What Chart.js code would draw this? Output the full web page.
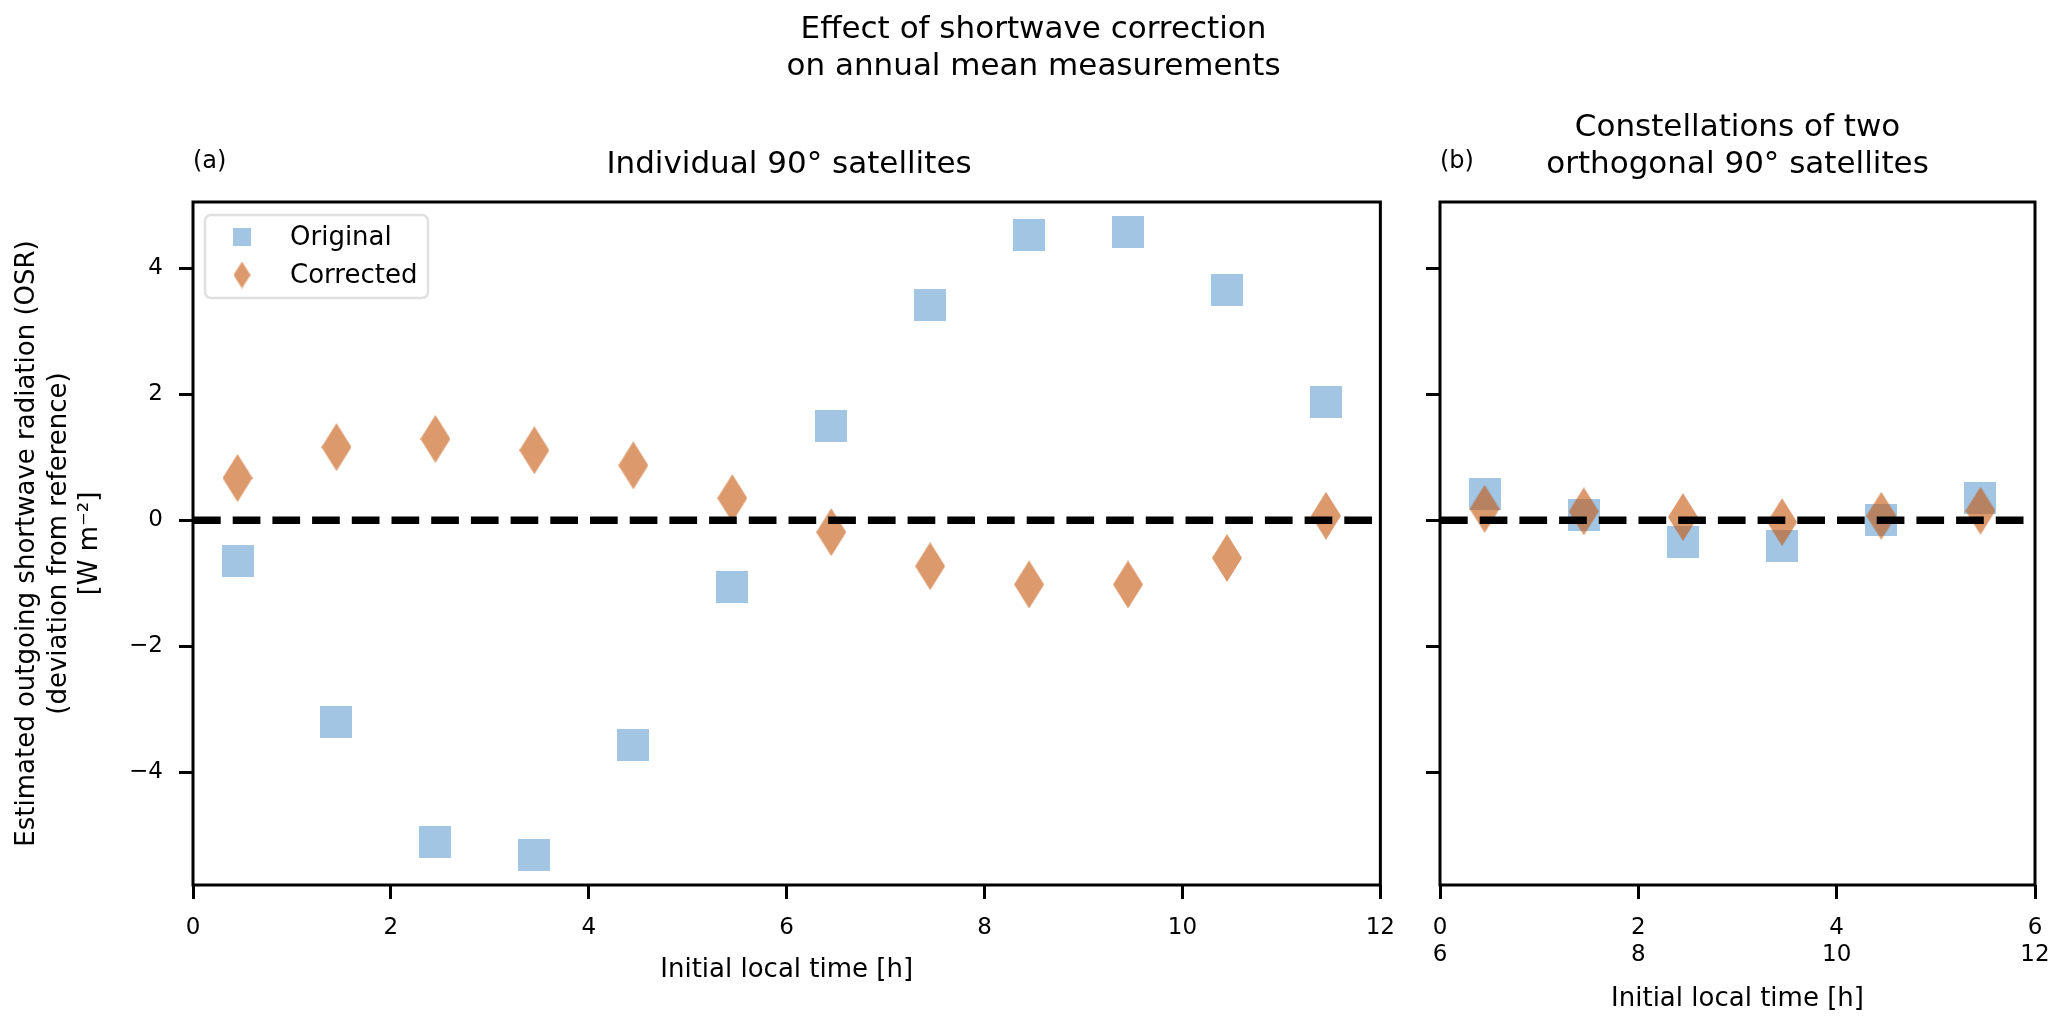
<!DOCTYPE html>
<html>
<head>
<meta charset="utf-8">
<script src="https://cdn.jsdelivr.net/npm/chart.js@4.4.1/dist/chart.umd.min.js"></script>
<style>
  html, body { margin: 0; padding: 0; background: #fff; }
  #fig { position: relative; width: 2067px; height: 1029px; overflow: hidden; font-family: 'DejaVu Sans', sans-serif; color: #000; }
  .box { position: absolute; top: 0; height: 1029px; }
  .txt { position: absolute; white-space: nowrap; }
  .big { font-size: 31px; line-height: 37px; text-align: center; }
  .tag { font-size: 24px; line-height: 29px; }
</style>
</head>
<body>
<div id="fig">
  <div class="box" id="box-a" style="left:0; width:1410px;"><canvas id="chart-a"></canvas></div>
  <div class="box" id="box-b" style="left:1410px; width:657px;"><canvas id="chart-b"></canvas></div>

  <div class="txt big" style="left:0; width:2067px; top:9px;">Effect of shortwave correction<br>on annual mean measurements</div>
  <div class="txt tag" style="left:193px; top:146px;">(a)</div>
  <div class="txt big" style="left:193px; width:1192px; top:144px;">Individual 90° satellites</div>
  <div class="txt tag" style="left:1440px; top:146px;">(b)</div>
  <div class="txt big" style="left:1440px; width:595px; top:107px;">Constellations of two<br>orthogonal 90° satellites</div>
</div>

<script>
(function () {
  'use strict';

  // Panel (a): individual satellites, initial local time [h]
  const hoursA = [0.45, 1.45, 2.45, 3.45, 4.45, 5.45, 6.45, 7.45, 8.45, 9.45, 10.45, 11.45];
  const originalA = [-0.64, -3.2, -5.1, -5.31, -3.57, -1.06, 1.49, 3.42, 4.52, 4.57, 3.66, 1.88];
  const correctedA = [0.67, 1.16, 1.29, 1.11, 0.87, 0.35, -0.19, -0.73, -1.02, -1.02, -0.6, 0.07];

  // Panel (b): constellations of two orthogonal satellites
  const hoursB = [0.45, 1.45, 2.45, 3.45, 4.45, 5.45];
  const originalB = [0.41, 0.08, -0.35, -0.41, 0.0, 0.36];
  const correctedB = [0.18, 0.14, 0.05, -0.03, 0.07, 0.15];

  // Axis ranges and ticks
  const xRangeA = [0, 12];
  const xRangeB = [0, 6];
  const yRange = [-5.79, 5.05];
  const xStep = 2;
  const yStep = 2;
  const secondClockOffset = 6; // second tick row of panel (b)
  const refLevel = 0;

  const seriesNames = ['Original', 'Corrected'];
  const yTitle = ['Estimated outgoing shortwave radiation (OSR)', '(deviation from reference)', '[W m\u207B\u00B2]'];
  const xTitle = 'Initial local time [h]';

  const SQUARE_COLOR = '#a1c5e3';
  const DIAMOND_COLOR = 'rgba(196, 85, 10, 0.6)';
  const FONT = 'DejaVu Sans';
  const AXIS_LW = 3;

  Chart.defaults.font.family = FONT;
  Chart.defaults.color = '#000';

  function makeSquare(side, color) {
    const c = document.createElement('canvas');
    c.width = side; c.height = side;
    const g = c.getContext('2d');
    g.fillStyle = color;
    g.fillRect(0, 0, side, side);
    return c;
  }

  function makeDiamond(w, h, color) {
    const c = document.createElement('canvas');
    c.width = w; c.height = h;
    const g = c.getContext('2d');
    g.fillStyle = color;
    g.beginPath();
    g.moveTo(w / 2, 0);
    g.lineTo(w, h / 2);
    g.lineTo(w / 2, h);
    g.lineTo(0, h / 2);
    g.closePath();
    g.fill();
    return c;
  }

  const squareMark = makeSquare(32, SQUARE_COLOR);
  const diamondMark = makeDiamond(30, 48, DIAMOND_COLOR);
  const squareLegend = makeSquare(18, SQUARE_COLOR);
  const diamondLegend = makeDiamond(17, 27, DIAMOND_COLOR);

  function points(xs, ys) {
    return xs.map((x, i) => ({ x: x, y: ys[i] }));
  }

  function minus(v) {
    return String(v).replace('-', '\u2212');
  }

  // spines on all four sides
  const framePlugin = {
    id: 'frame',
    afterDatasetsDraw(chart) {
      const a = chart.chartArea;
      const ctx = chart.ctx;
      ctx.save();
      ctx.strokeStyle = '#000';
      ctx.lineWidth = AXIS_LW;
      ctx.strokeRect(a.left, a.top, a.right - a.left, a.bottom - a.top);
      ctx.restore();
    }
  };

  // matplotlib-like legend inside upper left corner
  const innerLegend = {
    id: 'innerLegend',
    afterDraw(chart, args, opts) {
      if (!opts.show) return;
      const a = chart.chartArea;
      const ctx = chart.ctx;
      const x0 = a.left + 12, y0 = a.top + 13, w = 223, h = 83, r = 6;
      ctx.save();
      ctx.beginPath();
      ctx.roundRect(x0, y0, w, h, r);
      ctx.fillStyle = 'rgba(255,255,255,0.8)';
      ctx.fill();
      ctx.lineWidth = 2.5;
      ctx.strokeStyle = '#e0e0e0';
      ctx.stroke();
      const marks = [squareLegend, diamondLegend];
      const rows = [y0 + 22, y0 + 60];
      ctx.font = '26px "' + FONT + '"';
      ctx.fillStyle = '#000';
      ctx.textBaseline = 'middle';
      seriesNames.forEach((name, i) => {
        const m = marks[i];
        ctx.drawImage(m, x0 + 37 - m.width / 2, rows[i] - m.height / 2);
        ctx.fillText(name, x0 + 85, rows[i] + 1);
      });
      ctx.restore();
    }
  };

  function tickGrid() {
    return {
      drawOnChartArea: false,
      drawTicks: true,
      tickLength: 14,
      tickWidth: AXIS_LW,
      tickColor: '#000'
    };
  }

  function buildChart(canvasId, cfg) {
    return new Chart(document.getElementById(canvasId), {
      type: 'scatter',
      data: {
        datasets: [
          {
            type: 'line',
            label: 'reference',
            data: [{ x: cfg.xRange[0], y: refLevel }, { x: cfg.xRange[1], y: refLevel }],
            borderColor: '#000',
            borderWidth: 7.5,
            borderDash: [27.7, 12],
            pointRadius: 0,
            fill: false,
            order: 0
          },
          {
            label: seriesNames[1],
            data: points(cfg.hours, cfg.corrected),
            pointStyle: diamondMark,
            pointRadius: 15,
            order: 1
          },
          {
            label: seriesNames[0],
            data: points(cfg.hours, cfg.original),
            pointStyle: squareMark,
            pointRadius: 16,
            order: 2
          }
        ]
      },
      options: {
        responsive: true,
        maintainAspectRatio: false,
        animation: false,
        events: [],
        layout: { padding: cfg.padding },
        plugins: {
          legend: { display: false },
          tooltip: { enabled: false },
          innerLegend: { show: cfg.legend }
        },
        scales: {
          x: {
            type: 'linear',
            min: cfg.xRange[0],
            max: cfg.xRange[1],
            border: { display: false },
            grid: tickGrid(),
            ticks: {
              stepSize: xStep,
              padding: 15,
              maxRotation: 0,
              font: { size: 23 },
              color: '#000',
              callback: cfg.xLabel
            },
            title: {
              display: true,
              text: xTitle,
              font: { size: 26 },
              color: '#000',
              padding: { top: 0, bottom: cfg.xTitlePad }
            },
            afterFit(s) { s.height = 144; }
          },
          y: {
            type: 'linear',
            min: yRange[0],
            max: yRange[1],
            border: { display: false },
            grid: tickGrid(),
            ticks: {
              stepSize: yStep,
              includeBounds: false,
              padding: 16,
              font: { size: 23 },
              color: '#000',
              callback: cfg.yLabel
            },
            title: {
              display: cfg.yTitle,
              text: yTitle,
              font: { size: 26 },
              color: '#000',
              padding: { top: 12, bottom: 0 }
            },
            afterFit(s) { s.width = cfg.yWidth; }
          }
        }
      },
      plugins: [framePlugin, innerLegend]
    });
  }

  buildChart('chart-a', {
    hours: hoursA,
    original: originalA,
    corrected: correctedA,
    xRange: xRangeA,
    padding: { top: 202, right: 25, bottom: 0, left: 0 },
    yWidth: 193,
    yTitle: true,
    legend: true,
    xTitlePad: 43,
    xLabel: (v) => minus(v),
    yLabel: (v) => minus(v)
  });

  buildChart('chart-b', {
    hours: hoursB,
    original: originalB,
    corrected: correctedB,
    xRange: xRangeB,
    padding: { top: 202, right: 32, bottom: 0, left: 0 },
    yWidth: 30,
    yTitle: false,
    legend: false,
    xTitlePad: 14,
    xLabel: (v) => [String(v), String(v + secondClockOffset)],
    yLabel: () => ''
  });
})();
</script>
</body>
</html>
